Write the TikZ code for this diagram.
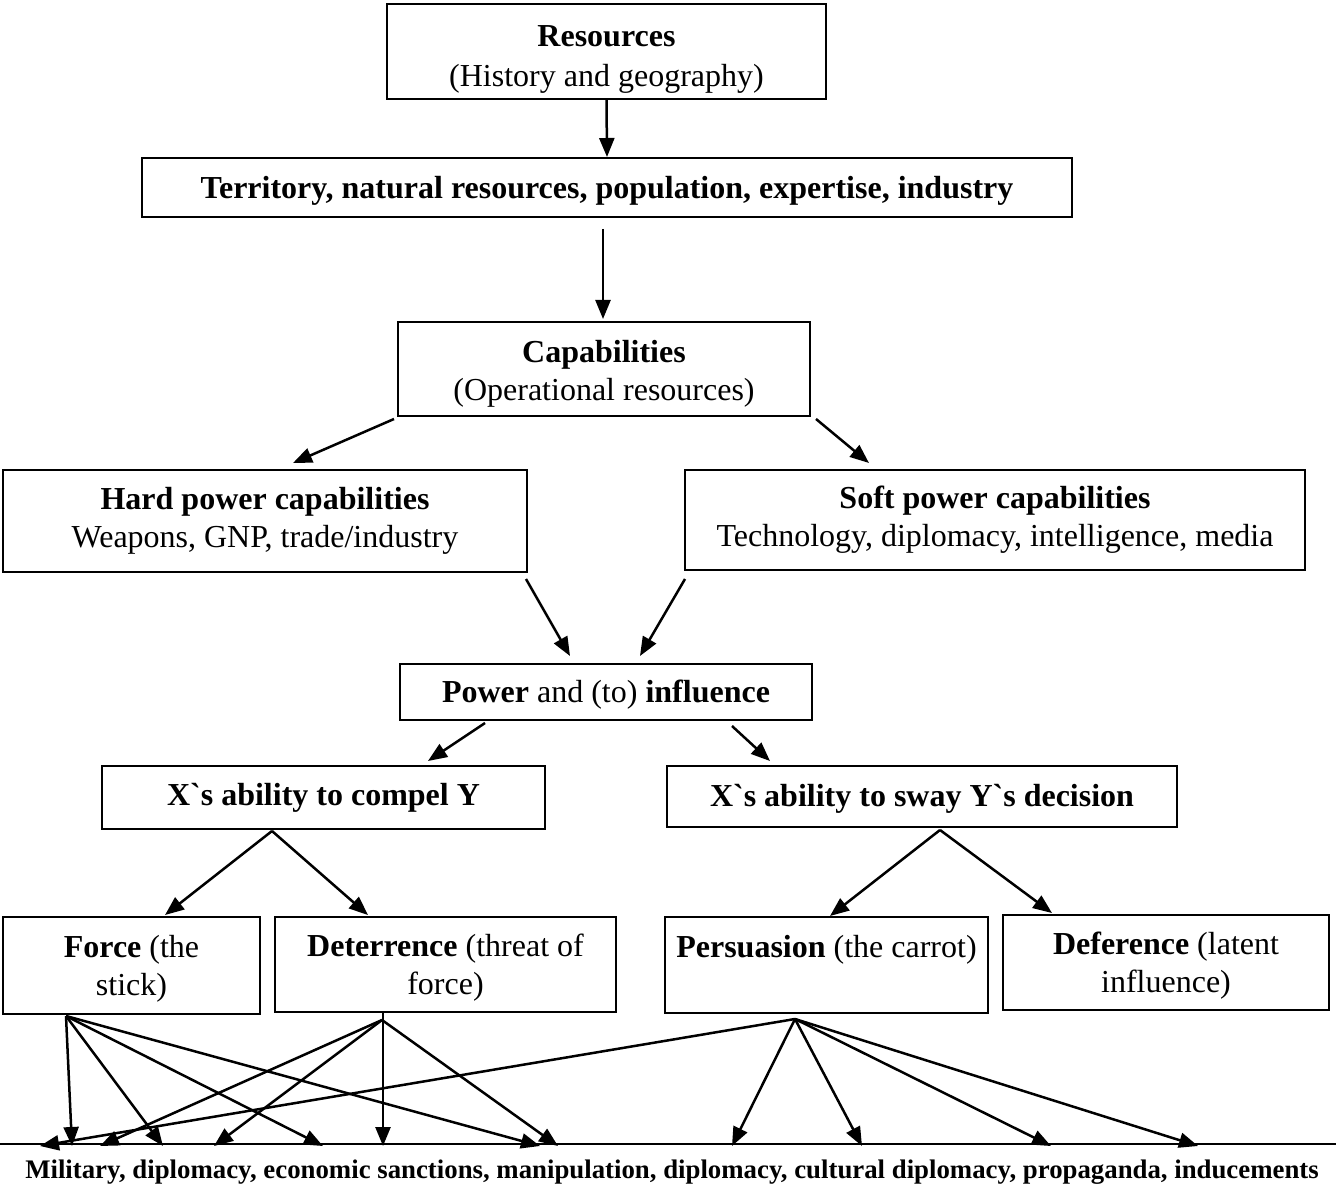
\documentclass[tikz,border=0pt]{standalone}
\usepackage{fontspec}
\newfontfamily\tnr{Liberation Serif}
\usetikzlibrary{arrows.meta,calc}
\newcommand\fs{\tnr\fontsize{32}{38}\selectfont}
\newcommand\fsbot{\tnr\bfseries\fontsize{26.8}{30}\selectfont}
\newcommand\dn[1]{\rule{0pt}{#1pt}}
\begin{document}
\begin{tikzpicture}[x=1pt,y=-1pt,
  box/.style={draw,line width=2pt,inner sep=0pt,align=center,font=\fs},
  arr/.style={line width=2.5pt,-{Triangle[length=19pt,width=15pt]}}]
\useasboundingbox (0,0) rectangle (1336,1198);

\node[box,minimum width=439pt,minimum height=95pt] (res) at (606.5,51.5)
  {\dn{36}\textbf{Resources}\\[2pt](History and geography)};
\node[box,minimum width=930pt,minimum height=59pt] (ter) at (607,187.5)
  {\dn{28}\textbf{Territory, natural resources, population, expertise, industry}};
\node[box,minimum width=412pt,minimum height=94pt] (cap) at (604,369)
  {\dn{32}\textbf{Capabilities}\\(Operational resources)};
\node[box,minimum width=524pt,minimum height=102pt] (hard) at (265,521)
  {\textbf{Hard power capabilities}\\Weapons, GNP, trade/industry};
\node[box,minimum width=620pt,minimum height=100pt] (soft) at (995,520)
  {\textbf{Soft power capabilities}\\Technology, diplomacy, intelligence, media};
\node[box,minimum width=412pt,minimum height=56pt] (pow) at (606,692)
  {\dn{28}\textbf{Power} and (to) \textbf{influence}};
\node[box,minimum width=443pt,minimum height=63pt] (comp) at (323.5,797.5)
  {\textbf{X`s ability to compel Y}};
\node[box,minimum width=510pt,minimum height=61pt] (sway) at (922,796.5)
  {\dn{26}\textbf{X`s ability to sway Y`s decision}};
\node[box,minimum width=257pt,minimum height=97pt] (force) at (131.5,965.5)
  {\dn{28}\textbf{Force} (the\\stick)};
\node[box,minimum width=341pt,minimum height=95pt] (det) at (445.5,964.5)
  {\dn{28}\textbf{Deterrence} (threat of\\force)};
\node[box,minimum width=323pt,minimum height=96pt] (pers) at (826.5,965)
  {\dn{34}\textbf{Persuasion} (the carrot)\\\strut};
\node[box,minimum width=326pt,minimum height=95pt] (def) at (1166,962.5)
  {\dn{28}\textbf{Deference} (latent\\influence)};

\node[inner sep=0pt,font=\fsbot] (bot) at (672,1172)
  {Military, diplomacy, economic sanctions, manipulation, diplomacy, cultural diplomacy, propaganda, inducements};

% top connectors
\draw[arr] (res.south) -- (ter.north);
\draw[arr] ($(ter.south)+(-4,11)$) -- ($(cap.north)+(-1,-2)$);
\draw[arr] ($(cap.south west)+(-3,2)$) -- ($(hard.north)+(28,-6)$);
\draw[arr] ($(cap.south east)+(5,2)$) -- ($(soft.north)+(-126,-6)$);
\draw[arr] ($(hard.south east)+(-2,6)$) -- ($(pow.north)+(-36,-7)$);
\draw[arr] ($(soft.south west)+(1,8)$) -- ($(pow.north)+(34,-7)$);
\draw[arr] ($(pow.south)+(-121,2)$) -- ($(comp.north)+(104.5,-4)$);
\draw[arr] ($(pow.south)+(126,5)$) -- ($(sway.north)+(-152,-4)$);
\draw[arr] ($(comp.south)+(-51.5,1)$) -- ($(force.north)+(33.5,-1)$);
\draw[arr] ($(comp.south)+(-51.5,1)$) -- ($(det.north)+(-77.5,-1)$);
\draw[arr] ($(sway.south)+(18,2)$) -- ($(pers.north)+(3.5,0)$);
\draw[arr] ($(sway.south)+(18,2)$) -- ($(def.north)+(-114,-1)$);

% bottom line
\coordinate (bl) at (0,1144);
\coordinate (br) at (1336,1144);
\draw[line width=2pt] (bl) -- (br);

% origins
\coordinate (fo) at ($(force.south west)+(64,1)$);
\coordinate (do) at ($(det.south west)+(108,7)$);
\coordinate (po) at ($(pers.south west)+(131,5)$);

% targets
\foreach \n/\x in {p1/40,f1/72,d1/100,f2/163,d2/214,f3/323,d3/383,f4/540,d4/558,p2/732,p3/862,p4/1051,p5/1198}
  \coordinate (\n) at ($(bl)+(\x,2)$);

\foreach \t in {f1,f2,f3,f4} \draw[arr] (fo) -- (\t);
\foreach \t in {d1,d2,d4} \draw[arr] (do) -- (\t);
\draw[arr] (det.south -| d3) -- (d3);
\foreach \t in {p1,p2,p3,p4,p5} \draw[arr] (po) -- (\t);
\end{tikzpicture}
\end{document}
